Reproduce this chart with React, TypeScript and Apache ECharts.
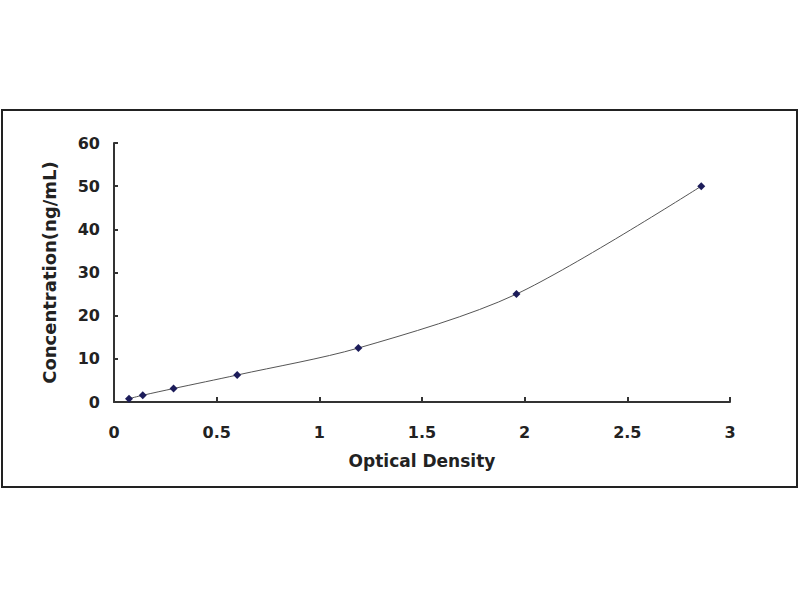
import { useRef, useEffect } from "react";
import * as echarts from "echarts";

const opticalDensity = [0.073, 0.14, 0.29, 0.6, 1.19, 1.96, 2.86];
const concentration = [0.78, 1.56, 3.12, 6.25, 12.5, 25, 50];

const xTicks = { min: 0, max: 3, interval: 0.5 };
const yTicks = { min: 0, max: 60, interval: 10 };

const FONT = "'DejaVu Sans', Arial, sans-serif";

export default function App() {
  const chartRef = useRef<HTMLDivElement>(null);

  useEffect(() => {
    if (!chartRef.current) return;
    const chart = echarts.init(chartRef.current, null, { renderer: "svg" });

    const points = opticalDensity.map((x, i) => [x, concentration[i]]);

    chart.setOption({
      animation: false,
      backgroundColor: "#fff",
      graphic: [
        {
          type: "rect",
          shape: { x: 2, y: 110, width: 795, height: 377 },
          style: { fill: "none", stroke: "#222", lineWidth: 2 },
          silent: true,
        },
      ],
      grid: { left: 114, right: 70, top: 143, bottom: 198 },
      xAxis: {
        type: "value",
        min: xTicks.min,
        max: xTicks.max,
        interval: xTicks.interval,
        name: "Optical Density",
        nameLocation: "middle",
        nameGap: 50,
        nameTextStyle: {
          fontFamily: FONT,
          fontWeight: "bold",
          fontSize: 17,
          color: "#222",
        },
        axisLine: { show: true, lineStyle: { color: "#333", width: 2 } },
        axisTick: { show: true, inside: true, length: 5, lineStyle: { color: "#333", width: 2 } },
        axisLabel: {
          margin: 22,
          fontFamily: FONT,
          fontWeight: "bold",
          fontSize: 16,
          color: "#222",
        },
        splitLine: { show: false },
      },
      yAxis: {
        type: "value",
        min: yTicks.min,
        max: yTicks.max,
        interval: yTicks.interval,
        name: "Concentration(ng/mL)",
        nameLocation: "middle",
        nameGap: 56,
        nameTextStyle: {
          fontFamily: FONT,
          fontWeight: "bold",
          fontSize: 18,
          color: "#222",
        },
        axisLine: { show: true, lineStyle: { color: "#333", width: 2 } },
        axisTick: { show: true, inside: true, length: 4, lineStyle: { color: "#333", width: 2 } },
        axisLabel: {
          margin: 14,
          fontFamily: FONT,
          fontWeight: "bold",
          fontSize: 16,
          color: "#222",
        },
        splitLine: { show: false },
      },
      series: [
        {
          type: "line",
          data: points,
          smooth: 0.3,
          symbol: "diamond",
          symbolSize: 8,
          itemStyle: { color: "#1c1c5a" },
          lineStyle: { color: "#555", width: 1 },
        },
      ],
    });

    return () => {
      chart.dispose();
    };
  }, []);

  return (
    <div
      ref={chartRef}
      style={{ position: "absolute", left: 0, top: 0, width: "800px", height: "600px" }}
    />
  );
}
